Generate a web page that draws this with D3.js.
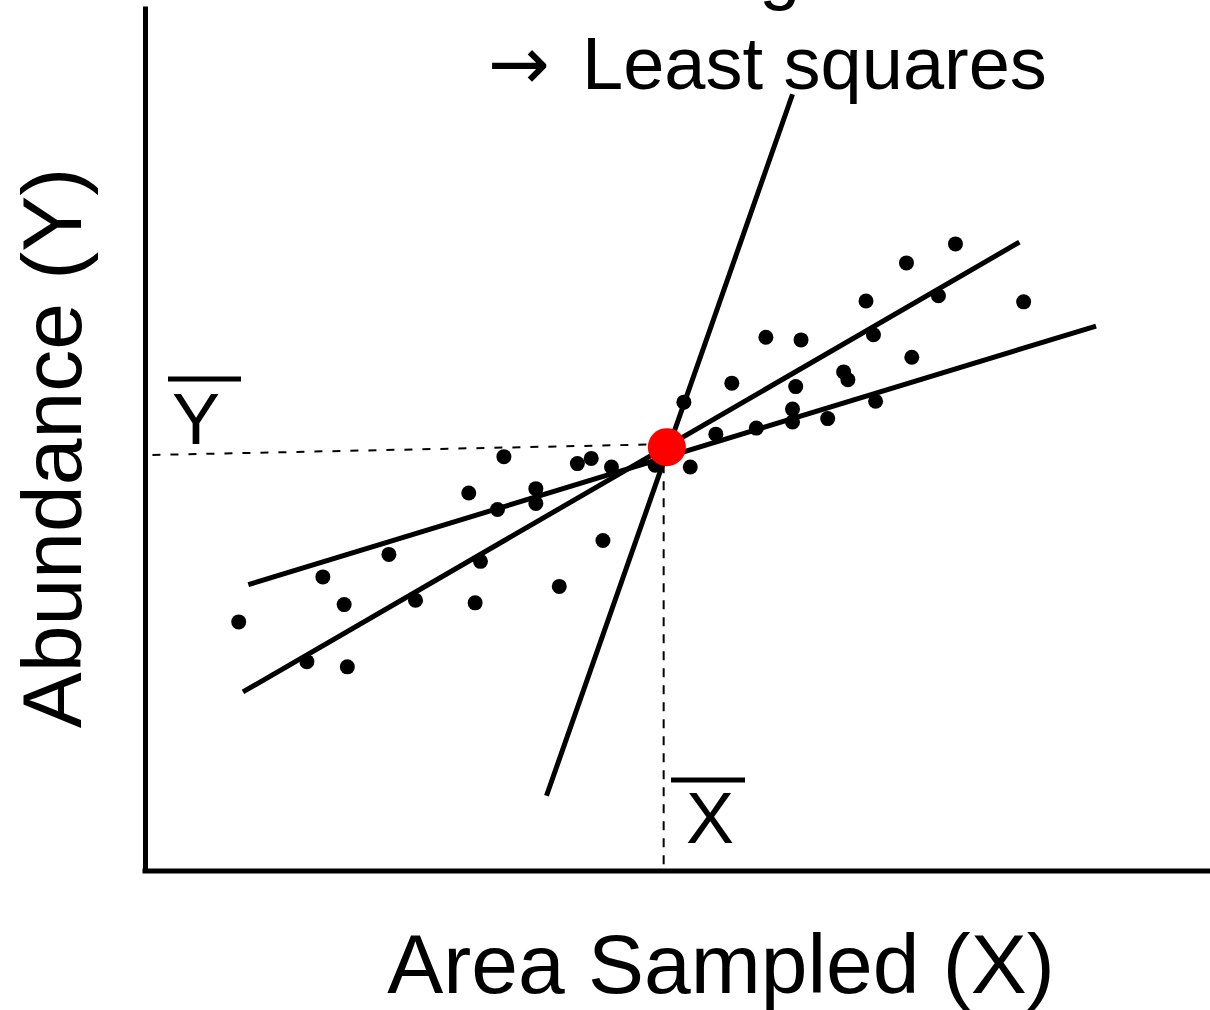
<!DOCTYPE html>
<html>
<head>
<meta charset="utf-8">
<script src="https://cdn.jsdelivr.net/npm/d3@7"></script>
<style>
  body { margin: 0; background: #fff; }
  text { font-family: "Liberation Sans", Arial, sans-serif; fill: #000; }
</style>
</head>
<body>
<div id="the_chart"></div>
<script>
// scatter points (arbitrary units)
var pointX = [33.7, 40.6, 41.9, 43.8, 47.9, 30.4, 36.7, 36.7, 33.1, 22.9,
              43.0, 31.5, 16.7, 18.7, 25.4, 31.0, 38.9, 8.8, 15.2, 19.0,
              50.6, 55.1, 58.3, 61.6, 53.6, 57.4, 61.1, 60.8, 60.8, 64.1,
              65.6, 66.0, 67.7, 68.4, 68.6, 72.0, 71.5, 74.5, 76.1, 82.5, 51.2];
var pointY = [47.9, 47.1, 47.7, 46.7, 46.9, 43.7, 44.2, 42.5, 41.8, 36.6,
              38.2, 35.8, 34.0, 30.8, 31.3, 31.0, 32.9, 28.8, 24.2, 23.6,
              54.2, 56.4, 61.7, 61.4, 50.5, 51.2, 56.0, 53.4, 51.9, 52.3,
              57.7, 56.8, 65.9, 62.0, 54.3, 59.4, 70.3, 66.5, 72.5, 65.8, 46.7];

// mean point (X bar, Y bar)
var meanX = 49.0, meanY = 49.0;

// three candidate lines through the mean
var fitNames = ["steep", "middle", "shallow"];
var fitX0 = [37.7, 9.2, 9.7];
var fitY0 = [8.7, 20.7, 33.1];
var fitX1 = [60.8, 82.1, 89.3];
var fitY1 = [89.8, 72.7, 63.0];

// guide lines to the axes
var guideHX0 = 0.7, guideHY0 = 48.1;
var guideVX = 48.7;

var axisTitles = ["Area Sampled (X)", "Abundance (Y)"];
var headLines = ["Best fitting line", "Least squares"];
var meanLabels = ["X", "Y"];

function drawChart(w, h) {
    var svg = d3.select("#the_chart").append("svg")
        .attr("width", w)
        .attr("height", h);

    var xscale = d3.scaleLinear().domain([0, 100]).range([145, 1210]);
    var yscale = d3.scaleLinear().domain([0, 100]).range([871, 6]);

    // axes (plain lines, no ticks)
    var xaxis = d3.axisBottom(xscale).ticks(0).tickSize(0).tickSizeOuter(0);
    var yaxis = d3.axisLeft(yscale).ticks(0).tickSize(0).tickSizeOuter(0);
    svg.append("g").attr("transform", "translate(0," + yscale(0) + ")")
        .call(xaxis)
        .select(".domain").attr("stroke-width", 5).attr("d", "M" + (xscale(0) - 2.5) + ",0H" + xscale(100));
    svg.append("g").attr("transform", "translate(" + xscale(0) + ",0)")
        .call(yaxis)
        .select(".domain").attr("stroke-width", 5);

    // dashed guides
    svg.append("line")
        .attr("x1", xscale(guideHX0)).attr("y1", yscale(guideHY0))
        .attr("x2", xscale(meanX)).attr("y2", yscale(meanY) - 3)
        .attr("stroke", "#000").attr("stroke-width", 2)
        .attr("stroke-dasharray", "8,10");
    svg.append("line")
        .attr("x1", xscale(guideVX)).attr("y1", yscale(meanY))
        .attr("x2", xscale(guideVX)).attr("y2", yscale(0))
        .attr("stroke", "#000").attr("stroke-width", 2)
        .attr("stroke-dasharray", "9,8");

    // points
    svg.selectAll("circle.pt")
        .data(pointX)
        .enter().append("circle")
        .attr("class", "pt")
        .attr("cx", function (d) { return xscale(d); })
        .attr("cy", function (d, i) { return yscale(pointY[i]); })
        .attr("r", 7.5)
        .attr("fill", "#000");

    // fitted lines
    svg.selectAll("line.fit")
        .data(fitNames)
        .enter().append("line")
        .attr("class", "fit")
        .attr("x1", function (d, i) { return xscale(fitX0[i]); })
        .attr("y1", function (d, i) { return yscale(fitY0[i]); })
        .attr("x2", function (d, i) { return xscale(fitX1[i]); })
        .attr("y2", function (d, i) { return yscale(fitY1[i]); })
        .attr("stroke", "#000")
        .attr("stroke-width", 5);

    // mean point
    svg.append("circle")
        .attr("cx", xscale(meanX)).attr("cy", yscale(meanY))
        .attr("r", 19).attr("fill", "#ff0000");

    // X bar and Y bar labels
    svg.append("text").attr("x", 710).attr("y", 843)
        .attr("text-anchor", "middle").style("font-size", "72px")
        .text(meanLabels[0]);
    svg.append("line").attr("x1", 671).attr("x2", 745).attr("y1", 780).attr("y2", 780)
        .attr("stroke", "#000").attr("stroke-width", 5);
    svg.append("text").attr("x", 196).attr("y", 444)
        .attr("text-anchor", "middle").style("font-size", "72px")
        .text(meanLabels[1]);
    svg.append("line").attr("x1", 168).attr("x2", 241).attr("y1", 379).attr("y2", 379)
        .attr("stroke", "#000").attr("stroke-width", 5);

    // axis titles
    svg.append("text").attr("x", 721).attr("y", 993)
        .attr("text-anchor", "middle").style("font-size", "84px")
        .text(axisTitles[0]);
    svg.append("text")
        .attr("transform", "translate(81,448) rotate(-90)")
        .attr("text-anchor", "middle").style("font-size", "84px")
        .text(axisTitles[1]);

    // heading (first line is cut off by the top edge, as in the original)
    svg.append("text").attr("x", 455).attr("y", -4)
        .style("font-size", "74px")
        .text(headLines[0]);
    var head = svg.append("text").attr("x", 488).attr("y", 89)
        .style("font-size", "74px");
    head.append("tspan").style("font-family", "'DejaVu Sans'").text("\u2192");
    head.append("tspan").attr("x", 582).text(headLines[1]);
}

function gen_vis() {
    var w = 1210;
    var h = 1010;
    drawChart(w, h);
}

gen_vis();
</script>
</body>
</html>
